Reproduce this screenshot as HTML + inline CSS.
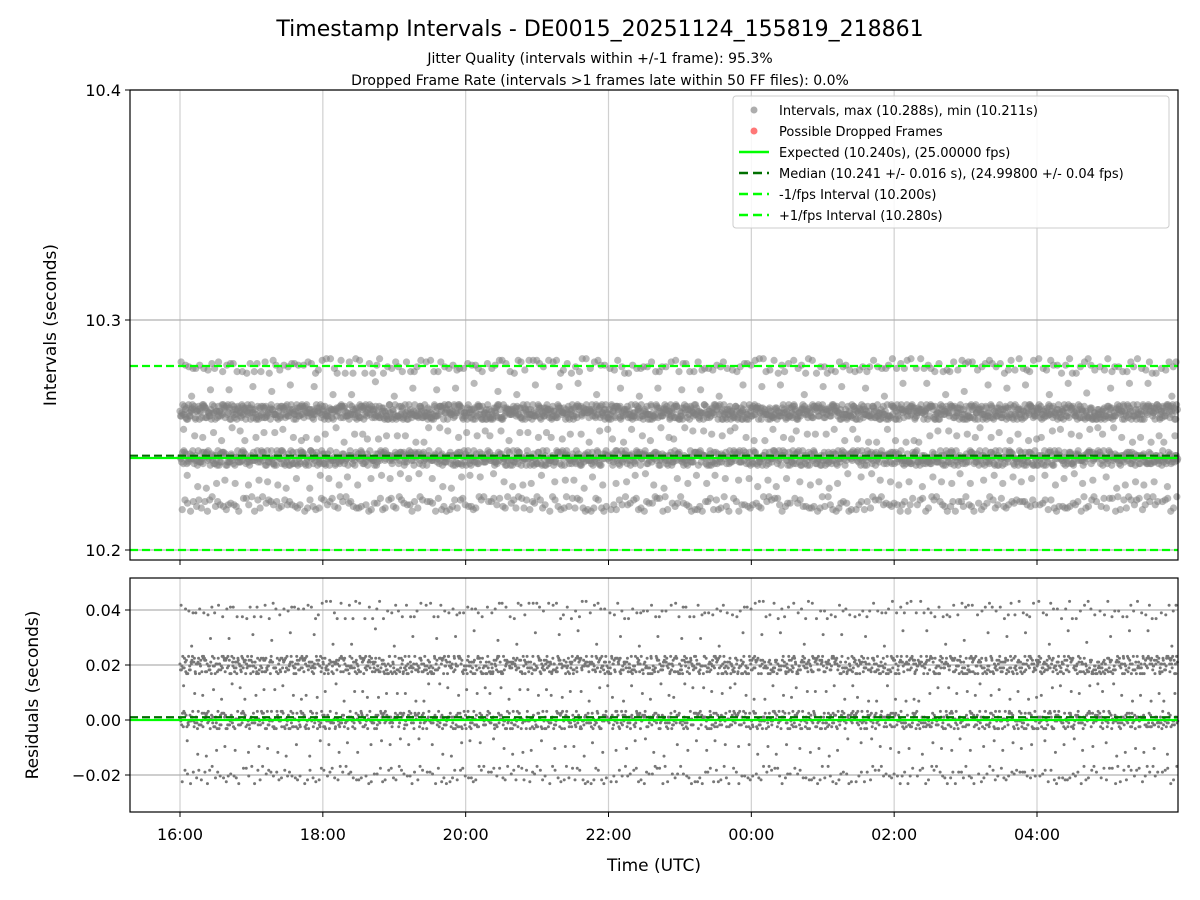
<!DOCTYPE html>
<html><head><meta charset="utf-8"><style>
html,body{margin:0;padding:0;background:#fff;}
svg{display:block;font-family:"DejaVu Sans","Liberation Sans",sans-serif;}
</style></head><body>
<svg id="chart" width="1200" height="900" xmlns="http://www.w3.org/2000/svg">
<rect width="1200" height="900" fill="#fff"/>
<text x="600" y="36" text-anchor="middle" font-size="22">Timestamp Intervals - DE0015_20251124_155819_218861</text>
<text x="600" y="63" text-anchor="middle" font-size="14">Jitter Quality (intervals within +/-1 frame): 95.3%</text>
<text x="600" y="85" text-anchor="middle" font-size="14">Dropped Frame Rate (intervals &gt;1 frames late within 50 FF files): 0.0%</text>
<g id="topPanel"></g><g id="botPanel"></g>
</svg>
<script>
// data
const xTickLabels = ["16:00","18:00","20:00","22:00","00:00","02:00","04:00"];
const xTickHours = [16,18,20,22,24,26,28];
const topYTicks = [10.2,10.3,10.4];
const botYTicks = [-0.02,0.00,0.02,0.04];
const levelValues = [10.22,10.24,10.26,10.28,10.25,10.23,10.27];
const levelCodes = "21213212012214122102321221502112312212012262121301212412231201215212012321221012124122312201221521201312122021621213021124122312012152120123212210121241223120122152121023121202162121302112412231202215212012321221012124122";
const jitterCodes = "53746192804635172908473615280493716258049173628590417382650914736285043";
const startHour = 16.0, endHour = 29.97, nPoints = 3600;
const expected = 10.240, median = 10.241, minusFps = 10.200, plusFps = 10.280;

const NS="http://www.w3.org/2000/svg";
function mk(tag,attrs,parent,text){const e=document.createElementNS(NS,tag);for(const k in attrs)e.setAttribute(k,attrs[k]);if(text!==undefined)e.textContent=text;parent.appendChild(e);return e;}
const L=130,R=1178;
const xs=h=>180+(h-16)*(1037-180)/12;
const yTop=v=>320-(v-10.3)*2300;
const yBot=v=>720-v*2750;
const topG=document.getElementById('topPanel'), botG=document.getElementById('botPanel');

function panel(g,y0,y1,ticks,ys,fmt,name){
  for(let i=0;i<xTickHours.length;i++){
    const l=mk('line',{x1:xs(xTickHours[i]),x2:xs(xTickHours[i]),y1:y0,y2:y1,stroke:'#d0d0d0','stroke-width':1.2},g);
    
    
  }
  ticks.forEach(t=>{
    const y=ys(t);
    const l=mk('line',{x1:L,x2:R,y1:y,y2:y,stroke:'#b0b0b0','stroke-width':1.2},g);
    
    
    mk('line',{x1:L-5,x2:L,y1:y,y2:y,stroke:'#000'},g);
    const tx=mk('text',{x:L-9,y:y+6,'text-anchor':'end','font-size':16},g,fmt(t));
    
    
  });
}
panel(topG,90,560,topYTicks,yTop,t=>t.toFixed(1),'top');
panel(botG,578,812,botYTicks,yBot,t=>(t<0?'\u22120.02':t.toFixed(2)),'bottom');

// points
const pts=[];
for(let i=0;i<nPoints;i++){
  const h=startHour+i*(endHour-startHour)/(nPoints-1);
  const lv=levelValues[+levelCodes[i%levelCodes.length]];
  const j=(+jitterCodes[(i*13)%jitterCodes.length]-4.5)*0.0007;
  pts.push([h,lv+j]);
}
const tg=mk('g',{},topG);


const bg=mk('g',{},botG);


pts.forEach(p=>{
  mk('circle',{cx:xs(p[0]),cy:yTop(p[1]),r:3.6,fill:'#808080','fill-opacity':0.55},tg);
  mk('circle',{cx:xs(p[0]),cy:yBot(p[1]-expected),r:1.5,fill:'#777'},bg);
});

// reference lines
function hl(g,y,col,dash,name){
  const l=mk('line',{x1:L,x2:R,y1:y,y2:y,stroke:col,'stroke-width':2.2},g);
  if(dash)l.setAttribute('stroke-dasharray',dash);
  
  
}
hl(topG,yTop(plusFps),'#00ff00','8 4','plus-fps-line');
hl(topG,yTop(minusFps),'#00ff00','8 4','minus-fps-line');
hl(topG,yTop(expected),'#00ff00','','expected-line');
hl(topG,yTop(median),'#007000','8 4','median-line');
hl(botG,yBot(0),'#00ff00','','residual-zero-line');
hl(botG,yBot(median-expected),'#007000','8 4','residual-median-line');

// frames
[[topG,90,560],[botG,578,812]].forEach(([g,a,b])=>mk('rect',{x:L,y:a,width:R-L,height:b-a,fill:'none',stroke:'#000','stroke-width':1.2},g));
xTickHours.forEach((h,i)=>{
  mk('line',{x1:xs(h),x2:xs(h),y1:560,y2:565,stroke:'#000'},topG);
  mk('line',{x1:xs(h),x2:xs(h),y1:812,y2:817,stroke:'#000'},botG);
  const t=mk('text',{x:xs(h),y:840,'text-anchor':'middle','font-size':16},botG,xTickLabels[i]);
  
  
});
let t=mk('text',{x:654,y:871,'text-anchor':'middle','font-size':17},botG,'Time (UTC)');


t=mk('text',{x:0,y:0,'text-anchor':'middle','font-size':17,transform:'translate(56,325) rotate(-90)'},topG,'Intervals (seconds)');


t=mk('text',{x:0,y:0,'text-anchor':'middle','font-size':17,transform:'translate(38,695) rotate(-90)'},botG,'Residuals (seconds)');



// legend
const lg=mk('g',{},topG);


mk('rect',{x:733,y:96,width:436,height:132,rx:3,fill:'#fff','fill-opacity':0.85,stroke:'#ccc'},lg);
const ent=[['dot','#999','Intervals, max (10.288s), min (10.211s)'],['dot','#ff5555','Possible Dropped Frames'],['line','#00ff00','Expected (10.240s), (25.00000 fps)'],['dash','#007000','Median (10.241 +/- 0.016 s), (24.99800 +/- 0.04 fps)'],['dash','#00ff00','-1/fps Interval (10.200s)'],['dash','#00ff00','+1/fps Interval (10.280s)']];
ent.forEach((e,i)=>{
  const y=110+i*21;
  const eg=mk('g',{},lg);
  
  
  if(e[0]==='dot')mk('circle',{cx:754,cy:y,r:3.5,fill:e[1],'fill-opacity':0.8},eg);
  else{const l=mk('line',{x1:739,x2:769,y1:y,y2:y,stroke:e[1],'stroke-width':2.5},eg);if(e[0]==='dash')l.setAttribute('stroke-dasharray','9 5');}
  mk('text',{x:779,y:y+5,'font-size':13},eg,e[2]);
});
</script>
</body></html>
